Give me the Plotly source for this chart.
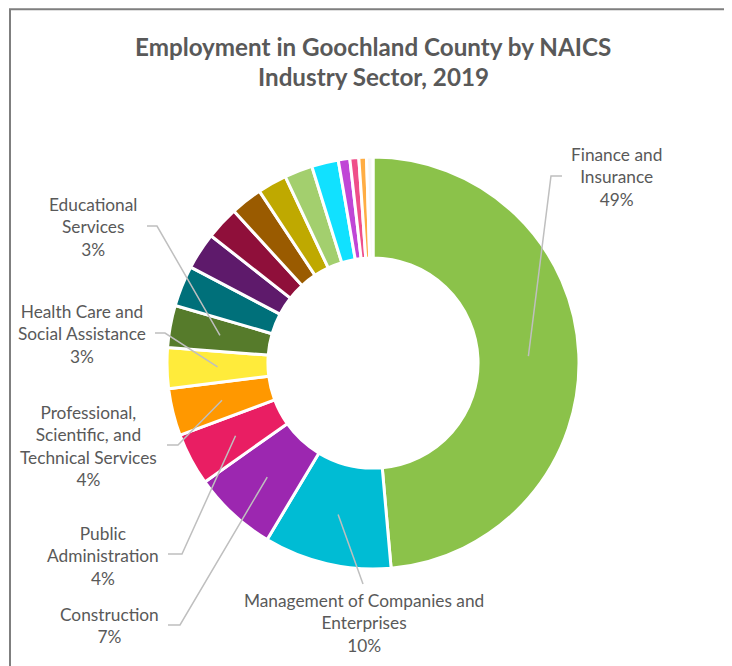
import math
import plotly.graph_objects as go

# ---- data ----
sectors = [
    "Finance and Insurance",
    "Management of Companies and Enterprises",
    "Construction",
    "Public Administration",
    "Professional, Scientific, and Technical Services",
    "Health Care and Social Assistance",
    "Educational Services",
    "Retail Trade",
    "Administrative and Support and Waste Management",
    "Accommodation and Food Services",
    "Other Services",
    "Wholesale Trade",
    "Manufacturing",
    "Transportation and Warehousing",
    "Real Estate and Rental and Leasing",
    "Arts, Entertainment, and Recreation",
    "Information",
    "Agriculture, Forestry, Fishing and Hunting",
]
shares = [48.6, 10.0, 6.6, 4.1, 3.7, 3.2, 3.3, 3.2, 2.9, 2.6, 2.5, 2.3, 2.2, 2.1, 0.9, 0.7, 0.6, 0.5]
colors = ["#8BC24A", "#00BCD4", "#9C27B0", "#E91E63", "#FF9800", "#FFEB3B", "#567B2B",
          "#00707A", "#5E1A6B", "#8F0F3A", "#9A5B00", "#BFA900", "#A3CF6E", "#11E1FF",
          "#C046D6", "#EF4F8A", "#FFAD44", "#F6F6F6"]
label_text = {
    0: "Finance and<br>Insurance",
    1: "Management of Companies and<br>Enterprises",
    2: "Construction",
    3: "Public<br>Administration",
    4: "Professional,<br>Scientific, and<br>Technical Services",
    5: "Health Care and<br>Social Assistance",
    6: "Educational<br>Services",
}
title_lines = ["Employment in Goochland County by NAICS", "Industry Sector, 2019"]

W, H = 732, 666
OFF = 8  # page body margin offset
CX, CY, R = 373, 363, 206
HOLE = 0.51
FONT = "Lato"
GREY = "#595959"

def px(x):
    return (x - OFF) / W

def py(y):
    return 1 - (y - OFF) / H

fig = go.Figure(go.Pie(
    labels=sectors, values=shares, sort=False, direction="clockwise", rotation=0,
    hole=HOLE, textinfo="none", showlegend=False,
    marker=dict(colors=colors, line=dict(color="white", width=3)),
    domain=dict(x=[px(CX - R), px(CX + R)], y=[py(CY + R), py(CY - R)]),
))

total = sum(shares)
cum = [sum(shares[:i]) for i in range(len(shares))]
rmid = R * (1 + HOLE) / 2

# label layout: (center x, center y, elbow points from label toward slice)
label_layout = {
    0: (616, 177, [(562, 176), (551, 176)]),
    1: (364, 623, [(363, 584)]),
    2: (110, 625, [(168, 625), (180, 625)]),
    3: (103, 556, [(168, 554), (182, 554)]),
    4: (88, 446, [(167, 445), (178, 445)]),
    5: (82, 334, [(155, 333), (165, 333)]),
    6: (93, 227, [(147, 226), (157, 226)]),
}

annotations = []
shapes = []
for i, (lx, ly, pts) in label_layout.items():
    pct = round(100 * shares[i] / total)
    annotations.append(dict(
        x=px(lx), y=py(ly), xref="paper", yref="paper", showarrow=False,
        text=f"{label_text[i]}<br>{pct}%", align="center",
        font=dict(family=FONT, size=17.3, color=GREY), xanchor="center", yanchor="middle",
    ))
    theta = math.radians(360 * (cum[i] + shares[i] / 2) / total)
    ax = CX + rmid * math.sin(theta)
    ay = CY - rmid * math.cos(theta)
    path_pts = pts + [(ax, ay)]
    path = "M " + " L ".join(f"{px(x):.5f},{py(y):.5f}" for x, y in path_pts)
    shapes.append(dict(type="path", path=path, xref="paper", yref="paper",
                       line=dict(color="#BFBFBF", width=1.5)))

# title (two lines)
for line, ty in zip(title_lines, [47, 76]):
    annotations.append(dict(
        x=px(373), y=py(ty), xref="paper", yref="paper", showarrow=False,
        text=f"<b>{line}</b>",
        font=dict(family=FONT, size=24.2, color=GREY), xanchor="center", yanchor="middle",
    ))

# chart border
shapes.append(dict(type="path", xref="paper", yref="paper",
                   path=f"M {px(10)},{py(H + 10)} L {px(10)},{py(9.2)} L {px(W + 10)},{py(9.2)}",
                   line=dict(color="#7F7F7F", width=2)))

fig.update_layout(
    width=W, height=H, margin=dict(l=0, r=0, t=0, b=0),
    paper_bgcolor="white", plot_bgcolor="white",
    annotations=annotations, shapes=shapes,
)
fig.write_html("out.html")
